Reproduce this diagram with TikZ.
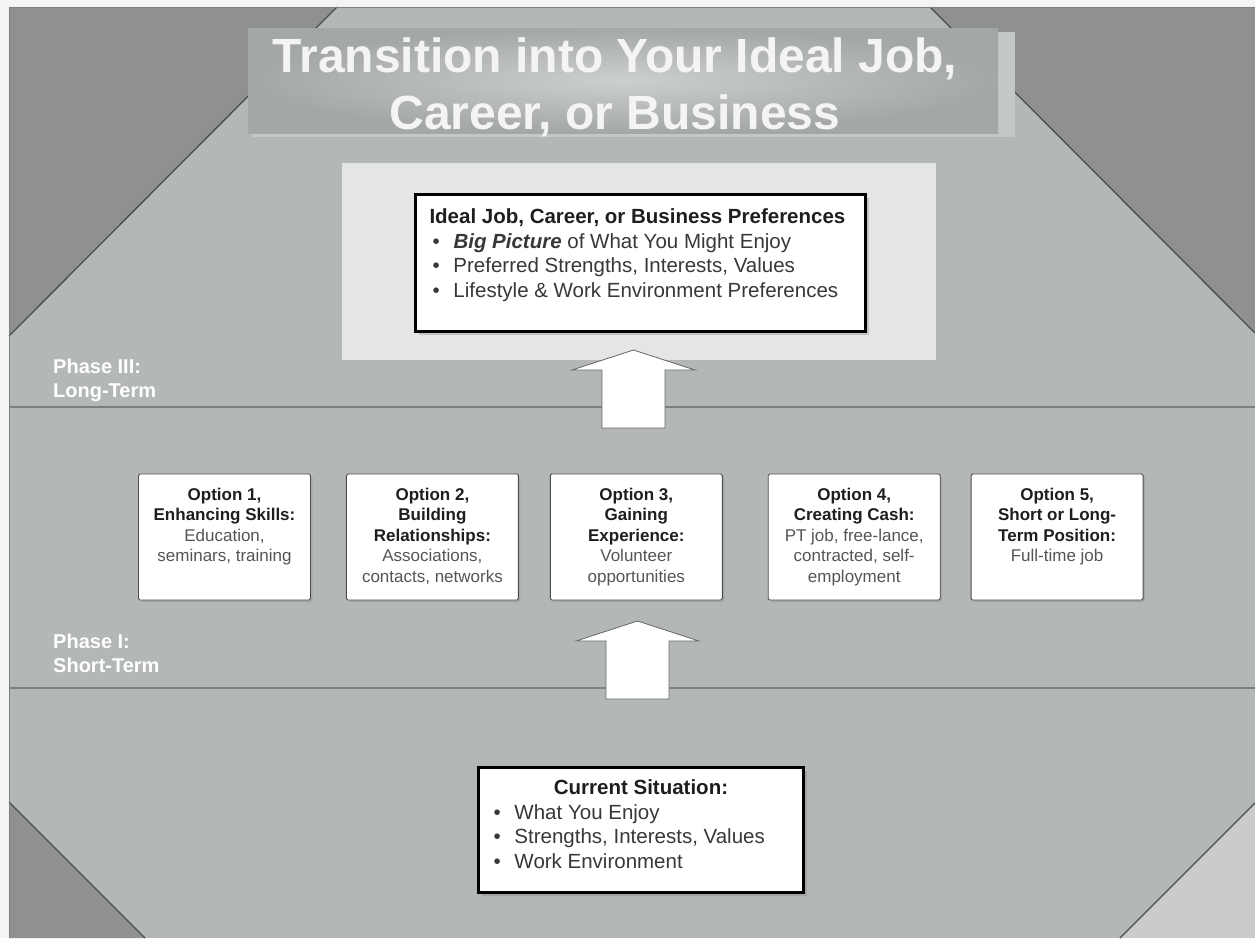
\documentclass[tikz,border=0pt]{standalone}
\usepackage{fontspec}
\setmainfont{Liberation Sans}
\usetikzlibrary{positioning,shadows}

\definecolor{pagebg}{HTML}{F4F4F4}
\definecolor{midgray}{HTML}{B4B7B7}
\definecolor{cornergray}{HTML}{8F9090}
\definecolor{cornerlight}{HTML}{C9CCCA}
\definecolor{panelgray}{HTML}{E3E6E3}
\definecolor{titleout}{HTML}{A4A7A7}
\definecolor{titlein}{HTML}{CBCFCD}
\definecolor{titleglow}{HTML}{C4C8C6}
\definecolor{rulegray}{HTML}{7C807F}
\definecolor{edgegray}{HTML}{4C4E4E}
\definecolor{textgray}{HTML}{555555}
\definecolor{headgray}{HTML}{1E1E1E}

% bullet with its indent
\newcommand{\bul}{\hspace*{3pt}\makebox[21pt][l]{•}}
% bold heading line in the option boxes
\newcommand{\opthead}[1]{\textcolor{headgray}{\bfseries #1}}
% option box text, top aligned
\newcommand{\optlines}[1]{\parbox[t][126pt][t]{172pt}{\centering\rule{0pt}{26pt}#1}}
% white block arrow pointing up, from the centre of its tail
\newcommand{\upblock}[1]{\draw[blockarrow] (#1) ++(-31.5,0) -- ++(0,-58) -- ++(-30,0)
  -- ++(61.5,-20) -- ++(61.5,20) -- ++(-30,0) -- ++(0,58) -- cycle;}

\begin{document}
\begin{tikzpicture}[
  x=1pt, y=-1pt,
  option/.style={draw=black!70, line width=0.9pt, fill=white, rounded corners=1.5pt, inner sep=0pt,
    font=\fontsize{17}{20.5}\selectfont, text=textgray,
    drop shadow={shadow xshift=2pt, shadow yshift=-2pt, opacity=.3}},
  bigbox/.style={draw=black, line width=3pt, fill=white, inner sep=0pt, anchor=north west,
    font=\fontsize{20.5}{24.5}\selectfont, text=black!78,
    drop shadow={shadow xshift=3pt, shadow yshift=-3pt, opacity=.35}},
  phase/.style={anchor=north west, inner sep=0pt, align=left, text=white,
    font=\bfseries\fontsize{20}{24}\selectfont},
  blockarrow/.style={draw=black!60, line width=0.8pt, fill=white},
  rule/.style={draw=rulegray, line width=2pt},
  edge/.style={draw=edgegray, line width=1.3pt}
]
\useasboundingbox (0,0) rectangle (1255,938);
\fill[pagebg] (0,0) rectangle (1255,938);

% background and corners
\fill[midgray] (9,7) rectangle (1255,938);
\fill[cornergray] (9,7) -- (337,7) -- (9,336) -- cycle;
\fill[cornergray] (930,7) -- (1255,7) -- (1255,333) -- cycle;
\fill[cornergray] (9,802) -- (145,938) -- (9,938) -- cycle;
\fill[cornerlight] (1255,803) -- (1255,938) -- (1120,938) -- cycle;
\draw[edge] (337,7) -- (9,336);
\draw[edge] (930,7) -- (1255,333);
\draw[edge] (9,802) -- (145,938);
\draw[edge] (1255,803) -- (1120,938);
\draw[rulegray, line width=1pt] (9,938) -- (9,7) -- (1255,7);

% phase rules
\draw[rule] (9,407) -- (1255,407);
\draw[rule] (9,688) -- (1255,688);

% title
\fill[titleglow] (252,32) rectangle (1015,137);
\shade[inner color=titlein, outer color=titleout] (248,28) rectangle (998,133);
\node[anchor=north, inner sep=0pt, align=center, text=pagebg,
  font=\bfseries\fontsize{48}{57}\selectfont] (title) at (615,37.5)
  {Transition into Your Ideal Job,\\Career, or Business};

% long-term panel
\fill[panelgray] (342,163) rectangle (936,360);
\node[bigbox] (ideal) at (414,193) {\parbox[t][137pt][t]{450pt}{\raggedright\leftskip=14pt
  \rule{0pt}{29pt}\textcolor{headgray}{\bfseries Ideal Job, Career, or Business Preferences}\\
  \bul\textbf{\textit{Big Picture}} of What You Might Enjoy\\
  \bul Preferred Strengths, Interests, Values\\
  \bul Lifestyle \& Work Environment Preferences}};

% phase labels
\node[phase] (phase3) at (53,358.5) {Phase III:\\Long-Term};
\node[phase] (phase1) at (53,633.5) {Phase I:\\Short-Term};

% options
\node[option] (opt1) at (224.5,537) {\optlines{\opthead{Option 1,}\\\opthead{Enhancing Skills:}\\Education,\\seminars, training}};
\node[option, right=35pt of opt1] (opt2) {\optlines{\opthead{Option 2,}\\\opthead{Building}\\\opthead{Relationships:}\\Associations,\\contacts, networks}};
\node[option, right=31pt of opt2] (opt3) {\optlines{\opthead{Option 3,}\\\opthead{Gaining}\\\opthead{Experience:}\\Volunteer\\opportunities}};
\node[option, right=45pt of opt3] (opt4) {\optlines{\opthead{Option 4,}\\\opthead{Creating Cash:}\\PT job, free-lance,\\contracted, self-\\employment}};
\node[option, right=30pt of opt4] (opt5) {\optlines{\opthead{Option 5,}\\\opthead{Short or Long-}\\\opthead{Term Position:}\\Full-time job}};

% current situation
\node[bigbox] (current) at (477,766) {\parbox[t][125pt][t]{325pt}{\centering
  \rule{0pt}{27pt}\textcolor{headgray}{\bfseries Current Situation:}\par
  \raggedright\leftskip=12pt
  \bul What You Enjoy\\
  \bul Strengths, Interests, Values\\
  \bul Work Environment\par}};

% block arrows
\coordinate (uptail) at (633.5,428);
\coordinate (lowtail) at (637.5,699);
\upblock{uptail}
\upblock{lowtail}
\end{tikzpicture}
\end{document}
